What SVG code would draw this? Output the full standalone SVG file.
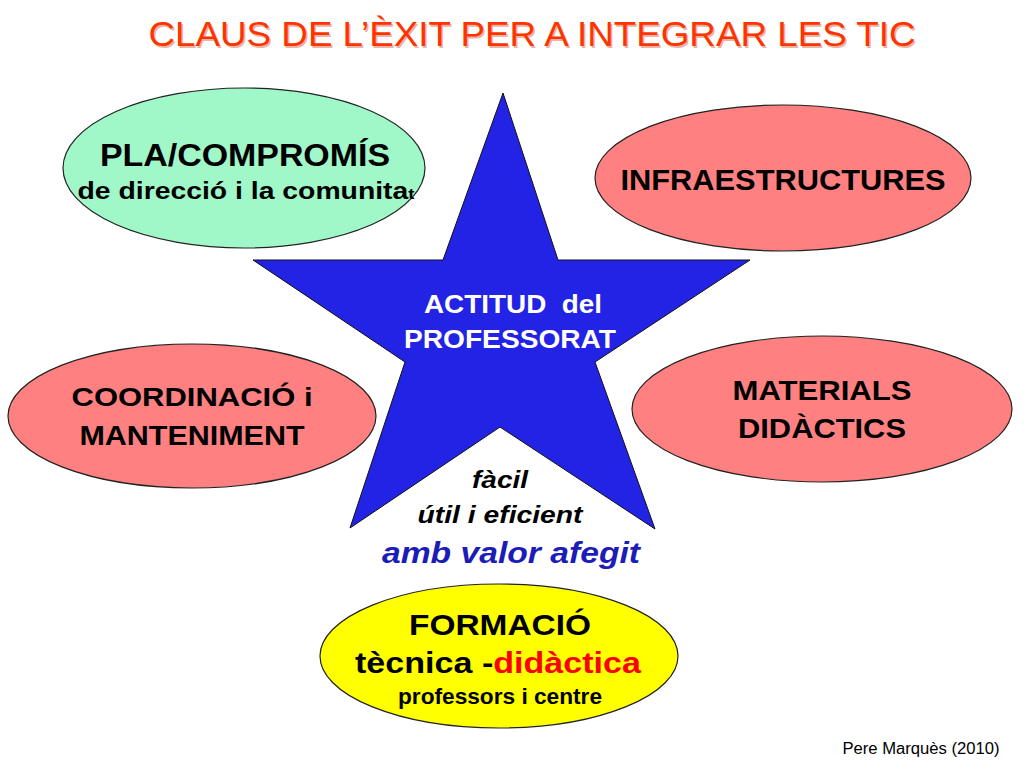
<svg xmlns="http://www.w3.org/2000/svg" width="1024" height="768" viewBox="0 0 1024 768">
<style>
text{font-family:"Liberation Sans",Arial,sans-serif;text-anchor:middle}
.b{font-weight:bold;fill:#000}
.e{stroke:#222;stroke-width:1.2}
.pink{fill:#ff8080}
</style>
<rect width="1024" height="768" fill="#fff"/>
<text x="532" y="46" font-size="35" fill="#eab4a4" textLength="767" lengthAdjust="spacingAndGlyphs" transform="translate(1.5,1.5)">CLAUS DE L’ÈXIT PER A INTEGRAR LES TIC</text>
<text x="532" y="46" font-size="35" fill="#ff3300" textLength="767" lengthAdjust="spacingAndGlyphs">CLAUS DE L’ÈXIT PER A INTEGRAR LES TIC</text>
<g id="pla">
<ellipse class="e" cx="244" cy="168" rx="181" ry="80" fill="#a0f7c8"/>
<text class="b" x="245" y="166" font-size="31" textLength="290" lengthAdjust="spacingAndGlyphs">PLA/COMPROMÍS</text>
<text class="b" x="246" y="199" font-size="23" textLength="337" lengthAdjust="spacingAndGlyphs">de direcció i la comunita<tspan font-size="15">t</tspan></text>
</g>
<g id="infra">
<ellipse class="e pink" cx="783" cy="178" rx="188" ry="73"/>
<text class="b" x="783" y="190" font-size="29" textLength="325" lengthAdjust="spacingAndGlyphs">INFRAESTRUCTURES</text>
</g>
<g id="coord">
<ellipse class="e pink" cx="192" cy="416" rx="184" ry="72"/>
<text class="b" x="192" y="406" font-size="26" textLength="241" lengthAdjust="spacingAndGlyphs">COORDINACIÓ i</text>
<text class="b" x="192" y="445" font-size="28" textLength="225" lengthAdjust="spacingAndGlyphs">MANTENIMENT</text>
</g>
<g id="materials">
<ellipse class="e pink" cx="822" cy="409" rx="190" ry="73"/>
<text class="b" x="822" y="400" font-size="28" textLength="179" lengthAdjust="spacingAndGlyphs">MATERIALS</text>
<text class="b" x="822" y="438" font-size="28" textLength="168" lengthAdjust="spacingAndGlyphs">DIDÀCTICS</text>
</g>
<g id="actitud">
<polygon points="503,93 558,260 750,260 595,362 655,529 500,427 350,528 405,362 253,260 443,260" fill="#2323e6" stroke="#111" stroke-width="1"/>
<text x="513" y="313" font-size="25" font-weight="bold" fill="#fff" xml:space="preserve" textLength="178" lengthAdjust="spacingAndGlyphs">ACTITUD  del</text>
<text x="510" y="348" font-size="25" font-weight="bold" fill="#fff" textLength="212" lengthAdjust="spacingAndGlyphs">PROFESSORAT</text>
<text class="b" x="500" y="488" font-size="23" font-style="italic" textLength="56" lengthAdjust="spacingAndGlyphs">fàcil</text>
<text class="b" x="500" y="523" font-size="23" font-style="italic" textLength="165" lengthAdjust="spacingAndGlyphs">útil i eficient</text>
</g>
<text x="511" y="563" font-size="30" font-weight="bold" font-style="italic" fill="#1c1cb8" textLength="258" lengthAdjust="spacingAndGlyphs">amb valor afegit</text>
<g id="formacio">
<ellipse class="e" cx="499" cy="656" rx="179" ry="72" fill="#ffff00"/>
<text class="b" x="500" y="635" font-size="30" textLength="182" lengthAdjust="spacingAndGlyphs">FORMACIÓ</text>
<text class="b" x="498" y="673" font-size="30" textLength="286" lengthAdjust="spacingAndGlyphs">tècnica -<tspan fill="#ff0000">didàctica</tspan></text>
<text class="b" x="500" y="704" font-size="22" textLength="204" lengthAdjust="spacingAndGlyphs">professors i centre</text>
</g>
<text x="921" y="754" font-size="16" fill="#000" textLength="157" lengthAdjust="spacingAndGlyphs">Pere Marquès (2010)</text>
</svg>
